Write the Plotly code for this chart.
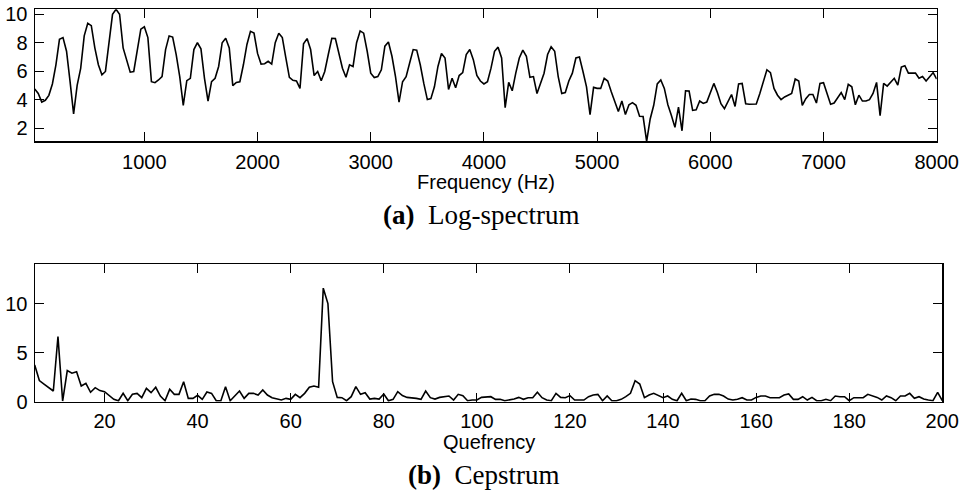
import plotly.graph_objects as go

# ---- data ----
bin_hz = 31.25
log_spectrum = [
    4.74, 4.43, 3.83, 3.95, 4.30, 5.10, 6.45, 8.24, 8.36, 7.40,
    5.26, 3.00, 5.00, 6.20, 8.48, 9.36, 9.20, 7.64, 6.45, 5.74,
    5.98, 8.10, 10.0, 10.35, 10.0, 7.64, 6.80, 5.93, 5.98, 7.40,
    8.95, 9.12, 8.36, 5.26, 5.19, 5.38, 5.62, 7.52, 8.48, 8.40,
    7.17, 5.62, 3.60, 5.33, 5.50, 7.52, 8.00, 7.57, 5.50, 3.90,
    5.26, 5.50, 6.33, 8.00, 8.31, 7.64, 4.98, 5.21, 5.26, 6.45,
    7.88, 8.80, 8.68, 7.25, 6.50, 6.52, 6.69, 6.50, 8.00, 8.67,
    8.36, 6.93, 5.57, 5.36, 5.31, 4.79, 7.93, 8.29, 7.52, 5.69,
    5.98, 5.33, 5.98, 7.17, 8.31, 8.29, 7.17, 6.21, 5.57, 6.45,
    6.33, 8.00, 8.83, 8.67, 7.40, 5.86, 5.55, 5.62, 6.10, 7.76,
    8.05, 7.05, 5.62, 3.83, 5.26, 5.62, 6.57, 7.52, 7.48, 6.45,
    5.14, 4.00, 4.07, 4.90, 6.33, 7.24, 6.93, 4.71, 5.50, 4.83,
    5.69, 5.90, 7.17, 7.52, 6.81, 5.70, 5.31, 5.10, 5.26, 6.21,
    7.40, 7.69, 6.93, 3.43, 5.21, 4.62, 5.86, 6.93, 7.48, 7.05,
    5.57, 5.62, 4.43, 5.21, 5.86, 7.17, 7.71, 7.40, 5.62, 4.43,
    4.50, 5.31, 5.86, 6.93, 7.00, 5.98, 4.90, 2.95, 4.86, 4.79,
    4.79, 5.50, 5.31, 4.55, 3.83, 3.17, 3.90, 2.95, 3.64, 3.79,
    3.60, 2.83, 2.81, 1.07, 2.64, 3.60, 5.10, 5.38, 4.79, 3.64,
    2.88, 2.05, 3.48, 1.81, 4.62, 4.60, 3.24, 3.29, 3.90, 3.73,
    3.83, 4.50, 5.14, 4.50, 3.71, 3.36, 3.83, 4.36, 3.52, 5.10,
    5.14, 3.71, 3.67, 3.69, 3.69, 4.43, 5.26, 6.10, 5.90, 4.79,
    4.31, 4.00, 4.19, 4.31, 4.43, 5.45, 5.31, 3.60, 4.07, 4.36,
    4.36, 3.76, 5.14, 5.19, 4.43, 3.67, 3.76, 4.14, 4.50, 4.00,
    5.07, 4.90, 3.64, 4.31, 3.90, 3.90, 4.00, 4.43, 5.21, 2.88,
    5.14, 4.95, 5.21, 5.50, 5.02, 6.29, 6.38, 5.86, 5.86, 5.86,
    5.50, 5.62, 5.31, 5.62, 5.90, 5.45,
]
frequency_hz = [bin_hz * (i + 1) for i in range(len(log_spectrum))]

cepstrum = [
    3.74, 2.15, 1.80, 1.47, 1.09, 6.64, 0.07, 3.17, 2.90, 3.06,
    1.60, 1.87, 0.96, 1.43, 1.13, 1.02, 0.62, 0.24, 0.10, 0.85,
    0.10, 0.75, 0.85, 0.41, 1.36, 0.92, 1.47, 0.58, 0.10, 1.26,
    0.75, 0.75, 2.04, 0.34, 0.34, 0.65, 0.24, 0.99, 0.85, 0.10,
    0.10, 1.53, 0.10, 0.62, 1.09, 0.34, 0.85, 0.85, 0.68, 1.19,
    0.68, 0.41, 0.27, 0.17, 0.34, 0.24, 0.75, 0.41, 0.85, 1.47,
    1.60, 1.47, 11.57, 10.0, 2.04, 0.44, 0.41, 0.10, 0.51, 1.53,
    0.75, 0.92, 0.27, 0.34, 0.27, 0.79, 0.10, 0.24, 1.02, 0.62,
    0.44, 0.41, 0.34, 0.24, 1.09, 0.41, 0.27, 0.44, 0.51, 0.58,
    0.17, 0.75, 0.62, 0.10, 0.17, 0.17, 0.44, 0.48, 0.51, 0.24,
    0.24, 0.10, 0.17, 0.27, 0.44, 0.24, 0.41, 0.41, 0.96, 0.41,
    0.17, 0.10, 0.85, 0.44, 0.41, 0.62, 0.17, 0.17, 0.17, 0.51,
    0.68, 0.75, 0.10, 0.58, 0.10, 0.10, 0.24, 0.51, 0.85, 2.14,
    1.80, 0.41, 0.68, 0.85, 0.62, 0.41, 0.58, 0.24, 0.10, 0.85,
    0.10, 0.27, 0.24, 0.10, 0.10, 0.58, 0.75, 0.75, 0.58, 0.27,
    0.17, 0.24, 0.41, 0.17, 0.17, 0.44, 0.58, 0.58, 0.41, 0.41,
    0.41, 0.68, 0.79, 0.24, 0.24, 0.51, 0.17, 0.44, 0.10, 0.10,
    0.24, 0.10, 0.58, 0.51, 0.51, 0.10, 0.41, 0.41, 0.41, 0.75,
    0.62, 0.44, 0.17, 0.58, 0.41, 0.10, 0.58, 0.58, 0.85, 0.34,
    0.51, 0.27, 0.17, 0.10, 0.96, 0.10,
]
quefrency = list(range(5, 5 + len(cepstrum)))

freq_ticks = [1000, 2000, 3000, 4000, 5000, 6000, 7000, 8000]
spec_ticks = [2, 4, 6, 8, 10]
quef_ticks = [20, 40, 60, 80, 100, 120, 140, 160, 180, 200]
ceps_ticks = [0, 5, 10]

# ---- figure ----
W, H = 962, 491
sans = "Liberation Sans, Arial, Helvetica, sans-serif"
serif = "Liberation Serif, Times New Roman, serif"

fig = go.Figure()
fig.add_trace(go.Scatter(x=frequency_hz, y=log_spectrum, mode="lines",
                         line=dict(color="black", width=1.6),
                         xaxis="x", yaxis="y", hoverinfo="skip"))
fig.add_trace(go.Scatter(x=quefrency, y=cepstrum, mode="lines",
                         line=dict(color="black", width=1.6),
                         xaxis="x2", yaxis="y2", hoverinfo="skip"))

common = dict(showline=True, linecolor="black", linewidth=1.2, mirror="ticks",
              ticks="inside", ticklen=9, tickwidth=1, tickcolor="black",
              showgrid=False, zeroline=False, automargin=False,
              tickfont=dict(family=sans, size=20, color="black"))

def px_x(p):
    return p / W

def px_y(p):
    return 1 - p / H

fig.update_layout(
    template="none",
    width=W, height=H,
    margin=dict(l=0, r=0, t=0, b=0, pad=0, autoexpand=False),
    paper_bgcolor="white", plot_bgcolor="white",
    showlegend=False,
    xaxis=dict(domain=[px_x(34.7), px_x(936.7)], anchor="y",
               range=[frequency_hz[0], frequency_hz[-1]],
               tickvals=freq_ticks, ticklabelstandoff=2, **common),
    yaxis=dict(domain=[px_y(141.3), px_y(9.3)], anchor="x",
               range=[min(log_spectrum), max(log_spectrum)],
               tickvals=spec_ticks, ticklabelstandoff=2, **common),
    xaxis2=dict(domain=[px_x(34.7), px_x(942.3)], anchor="y2",
                range=[quefrency[0], quefrency[-1]],
                tickvals=quef_ticks, ticklabelstandoff=1, **common),
    yaxis2=dict(domain=[px_y(401.7), px_y(264.3)], anchor="x2",
                range=[0, 14],
                tickvals=ceps_ticks, ticklabelstandoff=2, **common),
)

annos = [
    dict(text="Frequency (Hz)", x=px_x(485.7), y=px_y(181.7),
         font=dict(family=sans, size=20, color="black")),
    dict(text="Quefrency", x=px_x(488.5), y=px_y(441.5),
         font=dict(family=sans, size=20, color="black")),
    dict(text="<b>(a)</b>\u2002Log-spectrum", x=px_x(481), y=px_y(215.5),
         font=dict(family=serif, size=27, color="black")),
    dict(text="<b>(b)</b>\u2002Cepstrum", x=px_x(484), y=px_y(475),
         font=dict(family=serif, size=27, color="black")),
]
for a in annos:
    fig.add_annotation(xref="paper", yref="paper", showarrow=False,
                       xanchor="center", yanchor="middle", **a)

fig.write_html(
    "out.html",
    config={"displayModeBar": False, "staticPlot": True},
    post_script="document.body.style.margin='0';document.body.style.padding='0';"
                "document.body.style.overflow='hidden';",
)
